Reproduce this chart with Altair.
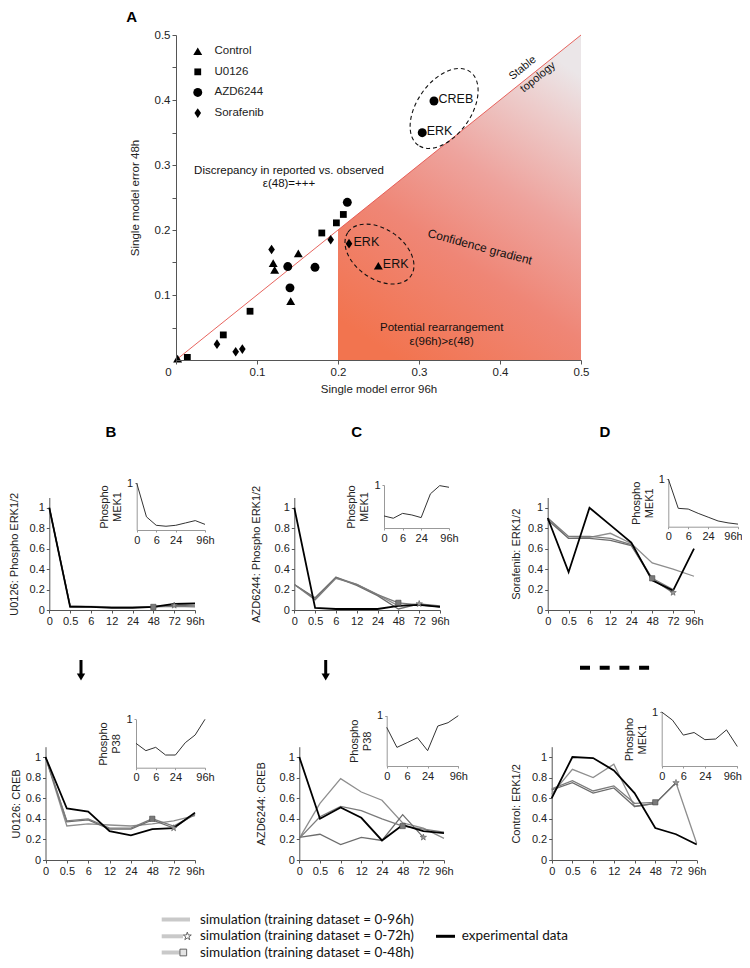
import json
import altair as alt
import pandas as pd

OX = OY = 8
W, H = 734, 952
FONT = "Liberation Sans"

# ---------------- data ----------------
TIME_LABELS = ["0", "0.5", "6", "12", "24", "48", "72", "96h"]
IDX = list(range(8))
LABEL_EXPR = json.dumps(TIME_LABELS) + "[datum.value]"

CONDS = ["Control", "U0126", "AZD6244", "Sorafenib"]
A_COND = ["AZD6244", "U0126", "U0126", "U0126", "Sorafenib", "Sorafenib", "Control",
          "Sorafenib", "Control", "Control", "Control", "AZD6244", "AZD6244", "AZD6244",
          "Control", "U0126", "U0126", "Sorafenib", "Sorafenib", "Sorafenib", "U0126",
          "Control", "AZD6244", "AZD6244"]
A_X = [0.2115, 0.2066, 0.198, 0.180, 0.191, 0.2136, 0.2498,
       0.118, 0.120, 0.1218, 0.151, 0.138, 0.1716, 0.1407,
       0.1416, 0.0914, 0.0584, 0.0506, 0.0737, 0.0819, 0.014,
       0.002, 0.3185, 0.304]
A_Y = [0.2426, 0.2239, 0.211, 0.1954, 0.185, 0.179, 0.145,
       0.170, 0.149, 0.1386, 0.164, 0.1437, 0.1426, 0.111,
       0.0904, 0.075, 0.0386, 0.0244, 0.0127, 0.0168, 0.004,
       0.002, 0.3985, 0.3497]
A_LABEL = ["", "", "", "", "", "ERK", "ERK", "", "", "", "", "", "", "",
           "", "", "", "", "", "", "", "", "CREB", "ERK"]

B_TOP = {"exp": [1.0, 0.03, 0.03, 0.02, 0.02, 0.03, 0.06, 0.065],
         "96h": [1.0, 0.04, 0.035, 0.03, 0.03, 0.035, 0.05, 0.06],
         "72h": [1.0, 0.035, 0.03, 0.025, 0.025, 0.03, 0.045, 0.04],
         "48h": [1.0, 0.04, 0.03, 0.025, 0.025, 0.03, 0.035, 0.03]}
C_TOP = {"exp": [1.0, 0.02, 0.01, 0.01, 0.01, 0.04, 0.05, 0.03],
         "96h": [0.25, 0.11, 0.32, 0.25, 0.15, 0.04, 0.06, 0.03],
         "72h": [0.25, 0.12, 0.32, 0.24, 0.14, 0.01, 0.06, 0.04],
         "48h": [0.25, 0.10, 0.31, 0.25, 0.15, 0.07, 0.05, 0.03]}
D_TOP = {"exp": [0.9, 0.37, 1.0, 0.83, 0.66, 0.29, 0.19, 0.6],
         "96h": [0.9, 0.7, 0.71, 0.75, 0.65, 0.46, 0.4, 0.33],
         "72h": [0.88, 0.7, 0.7, 0.68, 0.63, 0.3, 0.17],
         "48h": [0.9, 0.72, 0.72, 0.7, 0.64, 0.31, 0.2]}
B_BOT = {"exp": [1.0, 0.5, 0.47, 0.28, 0.24, 0.3, 0.31, 0.46],
         "96h": [1.0, 0.33, 0.35, 0.34, 0.33, 0.35, 0.38, 0.43],
         "72h": [1.0, 0.37, 0.39, 0.30, 0.30, 0.39, 0.31, 0.45],
         "48h": [1.0, 0.38, 0.40, 0.31, 0.31, 0.40, 0.33, 0.44]}
C_BOT = {"exp": [1.0, 0.4, 0.51, 0.41, 0.19, 0.34, 0.28, 0.26],
         "96h": [0.21, 0.55, 0.79, 0.66, 0.58, 0.36, 0.31, 0.21],
         "72h": [0.22, 0.25, 0.15, 0.22, 0.19, 0.44, 0.22],
         "48h": [0.21, 0.42, 0.52, 0.48, 0.40, 0.33, 0.30, 0.27]}
D_BOT = {"exp": [0.6, 1.0, 0.99, 0.87, 0.65, 0.31, 0.25, 0.15],
         "96h": [0.64, 0.88, 0.80, 0.93, 0.52, 0.55, 0.75, 0.16],
         "72h": [0.68, 0.75, 0.65, 0.70, 0.52, 0.55, 0.75],
         "48h": [0.69, 0.77, 0.67, 0.72, 0.55, 0.56]}

B_TOP_INSET = [1.0, 0.28, 0.1, 0.08, 0.1, 0.15, 0.2, 0.12]
C_TOP_INSET = [0.28, 0.227, 0.34, 0.303, 0.242, 0.795, 0.985, 0.947]
D_TOP_INSET = [1.0, 0.385, 0.37, 0.28, 0.2, 0.12, 0.08, 0.054]
B_BOT_INSET = [0.503, 0.352, 0.421, 0.262, 0.262, 0.517, 0.676, 1.0]
C_BOT_INSET = [0.768, 0.37, 0.464, 0.563, 0.305, 0.795, 0.861, 1.0]
D_BOT_INSET = [1.0, 0.849, 0.572, 0.62, 0.488, 0.5, 0.669, 0.361]

MAIN_TITLES = ["U0126: Phospho ERK1/2", "AZD6244: Phospho ERK1/2", "Sorafenib: ERK1/2",
               "U0126: CREB", "AZD6244: CREB", "Control: ERK1/2"]
INSET_TITLES = [["Phospho", "MEK1"], ["Phospho", "MEK1"], ["Phospho", "MEK1"],
                ["Phospho", "P38"], ["Phospho", "P38"], ["Phospho", "MEK1"]]
LEGEND_TEXT = ["simulation (training dataset = 0-96h)",
               "simulation (training dataset = 0-72h)",
               "simulation (training dataset = 0-48h)",
               "experimental data"]

# ---------------- layout (page pixels) ----------------
B_TOP_BOX = (49.3, 195, 610, 497.5)
C_TOP_BOX = (294.3, 440, 610, 497.5)
D_TOP_BOX = (547.7, 694, 610, 497.5)
B_BOT_BOX = (45.5, 195, 860, 746.7)
C_BOT_BOX = (299.3, 444, 860, 746.7)
D_BOT_BOX = (551.7, 696.7, 860, 746.7)
B_TOP_IN = (136.7, 205, 530, 483)
C_TOP_IN = (384, 449, 528, 485)
D_TOP_IN = (668.3, 738, 526.7, 479)
B_BOT_IN = (136, 205, 767.7, 719.3)
C_BOT_IN = (386.7, 458.3, 766, 715.7)
D_BOT_IN = (661.7, 737.3, 766, 712)

STAR = ("M0,-1L0.235,-0.324L0.951,-0.309L0.38,0.124L0.588,0.809L0,0.4"
        "L-0.588,0.809L-0.38,0.124L-0.951,-0.309L-0.235,-0.324Z")
DIAMOND = "M0,-1.08L0.74,0L0,1.08L-0.74,0Z"
SQUARE = "M-0.76,-0.76L0.76,-0.76L0.76,0.76L-0.76,0.76Z"

SIMCOL = alt.Scale(domain=["96h", "72h", "48h"], range=["#8e8e8e", "#6c6c6c", "#7b7b7b"])

AX = dict(grid=False, labelFont=FONT, labelFontSize=11, labelColor="#222",
          domainColor="#555", tickColor="#555", tickSize=3, labelPadding=2,
          labelOverlap=False, labelFlush=False, titleFont=FONT, titleFontSize=11,
          titleFontWeight="normal", titleColor="#222")
AX_IN = dict(AX, domainColor="#999", tickColor="#999", tickSize=2)

one = pd.DataFrame({"k": [0]})


def sx(a, b, dom):
    return alt.Scale(domain=dom, range=[a - OX, b - OX], nice=False, zero=False)


def sy(bot, top, dom):
    return alt.Scale(domain=dom, range=[bot - OY, top - OY], nice=False, zero=False)


def series_df(d):
    rows = []
    for name, vals in d.items():
        for i, v in enumerate(vals):
            rows.append({"i": i, "v": v, "s": name})
    return pd.DataFrame(rows)


def main_panel(box, data, title, tpad=10):
    x0, x1, ybot, ytop = box
    xsc, ysc = sx(x0, x1, [0, 7]), sy(ybot, ytop, [0, 1.1])
    df = series_df(data)
    base = alt.Chart(df)
    xax = alt.Axis(orient="bottom", offset=(ybot - OY) - H, values=IDX,
                   labelExpr=LABEL_EXPR, title=None, **AX)
    yax = alt.Axis(orient="left", offset=-(x0 - OX), values=[0, 0.2, 0.4, 0.6, 0.8, 1],
                   format="~g", title=title, titlePadding=tpad, **AX)
    sims = base.transform_filter("datum.s != 'exp'").mark_line(strokeWidth=1.3).encode(
        x=alt.X("i:Q", scale=xsc, axis=xax), y=alt.Y("v:Q", scale=ysc, axis=yax),
        color=alt.Color("s:N", scale=SIMCOL, legend=None), detail="s:N")
    exp = base.transform_filter("datum.s == 'exp'").mark_line(color="black", strokeWidth=1.8).encode(
        x=alt.X("i:Q", scale=xsc, axis=None), y=alt.Y("v:Q", scale=ysc, axis=None))
    sq = base.transform_filter("datum.s == '48h' && datum.i == 5").mark_point(
        shape="square", filled=True, size=28, color="#7a7a7a", stroke="#444", strokeWidth=0.6,
        opacity=1).encode(x=alt.X("i:Q", scale=xsc, axis=None), y=alt.Y("v:Q", scale=ysc, axis=None))
    st = base.transform_filter("datum.s == '72h' && datum.i == 6").mark_point(
        shape=STAR, filled=True, size=45, color="#999", stroke="#555", strokeWidth=0.6,
        opacity=1).encode(x=alt.X("i:Q", scale=xsc, axis=None), y=alt.Y("v:Q", scale=ysc, axis=None))
    return [sims, exp, sq, st]


def inset(box, vals, title, last_shift=0):
    x0, x1, ybot, ytop = box
    xsc, ysc = sx(x0, x1, [0, 7]), sy(ybot, ytop, [0, 1])
    df = pd.DataFrame({"i": IDX, "v": vals})
    xkw = dict(AX_IN)
    if last_shift:
        xkw["labelOffset"] = {"condition": {"test": "datum.value == 7", "value": last_shift},
                              "value": 0}
    return alt.Chart(df).mark_line(color="#333", strokeWidth=1).encode(
        x=alt.X("i:Q", scale=xsc, axis=alt.Axis(orient="bottom", offset=(ybot - OY) - H,
                                                values=[0, 2, 4, 7], labelExpr=LABEL_EXPR,
                                                title=None, **xkw)),
        y=alt.Y("v:Q", scale=ysc, axis=alt.Axis(orient="left", offset=-(x0 - OX), values=[1],
                                                format="~g", title=title, titlePadding=4, **AX_IN)))


def text_px(t, x, y, **kw):
    return alt.Chart(pd.DataFrame({"t": [t]})).mark_text(**kw).encode(
        x=alt.value(x - OX), y=alt.value(y - OY), text="t:N")


# ---------------- panel A ----------------
AXS = sx(176, 581, [0, 0.5])
AYS = sy(360, 35, [0, 0.5])
A_AX_X = alt.Axis(orient="bottom", offset=(360 - OY) - H, values=[0, 0.1, 0.2, 0.3, 0.4, 0.5],
                  format="~g", title="Single model error 96h", titlePadding=6, zindex=1,
                  labelOffset={"condition": {"test": "datum.value == 0", "value": -8}, "value": 0},
                  **dict(AX, labelFontSize=11.5, titleFontSize=11.5, tickSize=4))
A_AX_Y = alt.Axis(orient="left", offset=-(176 - OX),
                  values=[round(0.05 * k, 2) for k in range(1, 11)],
                  labelExpr="(round(datum.value*100) % 10 == 0) ? format(datum.value, '~g') : ''",
                  title="Single model error 48h", titlePadding=14, zindex=1,
                  **dict(AX, labelFontSize=11.5, titleFontSize=11.5, tickSize=4))

grad = alt.LinearGradient(
    gradient="linear", x1=0.25, y1=1, x2=0.75, y2=0,
    stops=[alt.GradientStop(color="#f2744f", offset=0),
           alt.GradientStop(color="#ef8676", offset=0.35),
           alt.GradientStop(color="#eea39d", offset=0.6),
           alt.GradientStop(color="#edcccb", offset=0.85),
           alt.GradientStop(color="#ebe6e8", offset=1)])

area = alt.Chart(pd.DataFrame({"x": [0.2, 0.5]})).transform_calculate(y="datum.x").mark_area(
    color=grad).encode(
    x=alt.X("x:Q", scale=AXS, axis=A_AX_X), y=alt.Y("y:Q", scale=AYS, axis=A_AX_Y),
    y2=alt.Y2Datum(datum=0))

diag = alt.Chart(pd.DataFrame({"x": [0, 0.5]})).transform_calculate(y="datum.x").mark_line(
    color="#e4524c", strokeWidth=0.9).encode(
    x=alt.X("x:Q", scale=AXS, axis=None), y=alt.Y("y:Q", scale=AYS, axis=None))

a_df = pd.DataFrame({"cond": A_COND, "x": A_X, "y": A_Y, "label": A_LABEL})
pts = alt.Chart(a_df).mark_point(filled=True, color="black", opacity=1, size=80).encode(
    x=alt.X("x:Q", scale=AXS, axis=None), y=alt.Y("y:Q", scale=AYS, axis=None),
    shape=alt.Shape("cond:N", scale=alt.Scale(domain=CONDS,
                                              range=["triangle-up", SQUARE, "circle", DIAMOND]),
                    legend=alt.Legend(orient="none", legendX=184, legendY=37.5, title=None,
                                      labelFont=FONT, labelFontSize=11.5, labelColor="#222",
                                      symbolSize=80, symbolFillColor="black",
                                      symbolStrokeColor="black", symbolStrokeWidth=0,
                                      labelOffset=11, rowPadding=7.6, padding=0)))

lbls = alt.Chart(a_df).transform_filter("datum.label != ''").mark_text(
    align="left", baseline="middle", dx=4.5, dy=-2, font=FONT, fontSize=12.5, color="#111").encode(
    x=alt.X("x:Q", scale=AXS, axis=None), y=alt.Y("y:Q", scale=AYS, axis=None), text="label:N")


def ellipse(cx, cy, ratio, size, angle):
    path = f"M-1,0A1,{ratio},0,0,1,1,0A1,{ratio},0,0,1,-1,0Z"
    return alt.Chart(one).mark_point(shape=path, filled=False, size=size, angle=angle,
                                     stroke="#111", strokeWidth=1.1, strokeDash=[4, 3],
                                     opacity=1).encode(
        x=alt.XDatum(datum=cx, type="quantitative", scale=AXS, axis=None),
        y=alt.YDatum(datum=cy, type="quantitative", scale=AYS, axis=None))


def a_text(t, cx, cy, **kw):
    return alt.Chart(pd.DataFrame({"t": [t]})).mark_text(font=FONT, color="#111", **kw).encode(
        x=alt.XDatum(datum=cx, type="quantitative", scale=AXS, axis=None),
        y=alt.YDatum(datum=cy, type="quantitative", scale=AYS, axis=None), text="t:N")


layers = [
    area, diag,
    ellipse(0.331, 0.387, 0.6, 8100, 305),
    ellipse(0.2512, 0.163, 0.65, 5868, 35),
    pts, lbls,
    a_text("Discrepancy in reported vs. observed\nε(48)=+++", 0.1395, 0.291,
           fontSize=11.5, lineBreak="\n", lineHeight=13.3),
    a_text("Potential rearrangement\nε(96h)>ε(48)", 0.328, 0.0487,
           fontSize=11.5, lineBreak="\n", lineHeight=13.3),
    a_text("Confidence gradient", 0.3753, 0.174, fontSize=12, angle=15),
    a_text("Stable", 0.428, 0.449, fontSize=11, angle=321),
    a_text("topology", 0.447, 0.435, fontSize=11, angle=321),
]

# ---------------- panels B, C, D ----------------
for box, data, title, tp in [(B_TOP_BOX, B_TOP, MAIN_TITLES[0], 10),
                             (C_TOP_BOX, C_TOP, MAIN_TITLES[1], 13),
                             (D_TOP_BOX, D_TOP, MAIN_TITLES[2], 6),
                             (B_BOT_BOX, B_BOT, MAIN_TITLES[3], 4),
                             (C_BOT_BOX, C_BOT, MAIN_TITLES[4], 13),
                             (D_BOT_BOX, D_BOT, MAIN_TITLES[5], 10)]:
    layers += main_panel(box, data, title, tp)

for box, vals, title, shift in [(B_TOP_IN, B_TOP_INSET, INSET_TITLES[0], 0),
                                (C_TOP_IN, C_TOP_INSET, INSET_TITLES[1], 0),
                                (D_TOP_IN, D_TOP_INSET, INSET_TITLES[2], -5),
                                (B_BOT_IN, B_BOT_INSET, INSET_TITLES[3], 0),
                                (C_BOT_IN, C_BOT_INSET, INSET_TITLES[4], 0),
                                (D_BOT_IN, D_BOT_INSET, INSET_TITLES[5], -5)]:
    layers.append(inset(box, vals, title, shift))

# panel letters
for letter, x, y in [("A", 131.7, 17), ("B", 111, 432), ("C", 356.7, 432), ("D", 605, 432)]:
    layers.append(text_px(letter, x, y, font=FONT, fontSize=15, fontWeight="bold",
                          color="black", align="center", baseline="middle"))

# arrows and dashes between rows
for ax in [81, 325.7]:
    layers.append(alt.Chart(one).mark_rule(color="black", strokeWidth=3).encode(
        x=alt.value(ax - OX), y=alt.value(660 - OY), y2=alt.value(675 - OY)))
    layers.append(alt.Chart(one).mark_point(shape="triangle-down", filled=True, color="black",
                                            size=70, opacity=1).encode(
        x=alt.value(ax - OX), y=alt.value(677 - OY)))
layers.append(alt.Chart(one).mark_rule(color="black", strokeWidth=4, strokeDash=[10, 9.7]).encode(
    x=alt.value(580 - OX), x2=alt.value(650 - OX), y=alt.value(667.7 - OY)))

# bottom legend
LEG_Y = [919.5, 936.3, 952.5]
for yy, x2 in zip(LEG_Y, [190, 183, 180]):
    layers.append(alt.Chart(one).mark_rule(color="#c9c9c9", strokeWidth=4).encode(
        x=alt.value(161.7 - OX), x2=alt.value(x2 - OX), y=alt.value(yy - OY)))
layers.append(alt.Chart(one).mark_point(shape=STAR, filled=False, size=70, stroke="#555",
                                        strokeWidth=0.9, opacity=1).encode(
    x=alt.value(187.3 - OX), y=alt.value(LEG_Y[1] - OY)))
layers.append(alt.Chart(one).mark_point(shape="square", filled=True, size=45, fill="#e4e4e4",
                                        stroke="#555", strokeWidth=0.9, opacity=1).encode(
    x=alt.value(183.3 - OX), y=alt.value(LEG_Y[2] - OY)))
for t, yy in zip(LEGEND_TEXT[:3], LEG_Y):
    layers.append(text_px(t, 200, yy, font="Lato", fontSize=13.5, color="#111",
                          align="left", baseline="middle"))
layers.append(alt.Chart(one).mark_rule(color="black", strokeWidth=3).encode(
    x=alt.value(436 - OX), x2=alt.value(455 - OX), y=alt.value(LEG_Y[1] - OY)))
layers.append(text_px(LEGEND_TEXT[3], 461.7, LEG_Y[1], font="Lato", fontSize=13.5, color="#111",
                      align="left", baseline="middle"))

chart = alt.layer(*layers).resolve_scale(
    x="independent", y="independent").resolve_axis(
    x="independent", y="independent").properties(
    width=W, height=H, padding=0, autosize="none").configure_view(
    stroke=None).configure_axis(grid=False)

chart.save("out.html", embed_options={"renderer": "svg", "actions": False})
